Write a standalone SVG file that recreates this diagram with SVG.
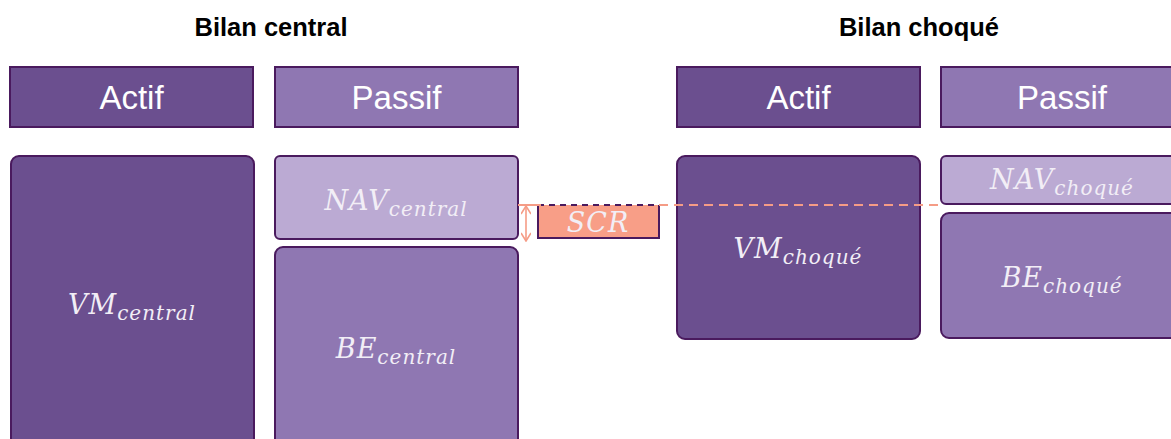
<svg xmlns="http://www.w3.org/2000/svg" width="1171" height="439" viewBox="0 0 1171 439">
<defs>
<marker id="ah" viewBox="0 0 10 10" refX="9" refY="5" markerWidth="10" markerHeight="10" markerUnits="userSpaceOnUse" orient="auto-start-reverse">
<path d="M1,0 L9,5 L1,10" fill="none" stroke="#F59C86" stroke-width="1.6"/>
</marker>
<style>
.title{font-family:"Liberation Sans",Arial,sans-serif;font-weight:bold;font-size:25.5px;fill:#000;text-anchor:middle}
.hdr{font-family:"Liberation Sans",Arial,sans-serif;font-size:33px;fill:#fff;text-anchor:middle}
.math{font-family:"DejaVu Serif","Liberation Serif",serif;font-style:italic;font-size:27px;letter-spacing:1px;fill:#F2EEF6;text-anchor:middle}
.sub{font-size:20px}
.dark{fill:#6B4F8F;stroke:#4A1A5E;stroke-width:2}
.mid{fill:#8F77B2;stroke:#4A1A5E;stroke-width:2}
.light{fill:#BBAAD3;stroke:#4A1A5E;stroke-width:2}
</style>
</defs>
<rect width="1171" height="439" fill="#fff"/>
<text class="title" x="271" y="36">Bilan central</text>
<text class="title" x="919" y="36">Bilan choqué</text>

<g id="hdr-actif-central"><rect class="dark" x="10" y="67" width="243" height="60"/><text class="hdr" x="131.5" y="109">Actif</text></g>
<g id="hdr-passif-central"><rect class="mid" x="275" y="67" width="243" height="60"/><text class="hdr" x="396.5" y="109">Passif</text></g>
<g id="hdr-actif-choque"><rect class="dark" x="677" y="67" width="243" height="60"/><text class="hdr" x="798.5" y="109">Actif</text></g>
<g id="hdr-passif-choque"><rect class="mid" x="941" y="67" width="243" height="60"/><text class="hdr" x="1062" y="109">Passif</text></g>

<g id="vm-central"><rect class="dark" x="11" y="156" width="243" height="300" rx="8"/><text class="math" x="132" y="314">VM<tspan class="sub" dy="6">central</tspan></text></g>
<g id="nav-central"><rect class="light" x="275" y="156" width="243" height="83" rx="5"/><text class="math" x="396" y="210">NAV<tspan class="sub" dy="6">central</tspan></text></g>
<g id="be-central"><rect class="mid" x="275" y="247" width="243" height="210" rx="8"/><text class="math" x="396" y="358">BE<tspan class="sub" dy="6">central</tspan></text></g>

<g id="scr">
<rect x="538" y="205" width="121" height="33" fill="#F89E87"/>
<path d="M538,205 V238 H659 V205" fill="none" stroke="#4A1A5E" stroke-width="2"/>
<line x1="538" y1="205" x2="659" y2="205" stroke="#4A1A5E" stroke-width="2" stroke-dasharray="6,5"/>
<text class="math" x="598" y="232">SCR</text>
</g>

<g id="vm-choque"><rect class="dark" x="677" y="156" width="243" height="183" rx="8"/><text class="math" x="798" y="258">VM<tspan class="sub" dy="6">choqué</tspan></text></g>

<g id="connectors">
<line x1="518" y1="205" x2="541" y2="205" stroke="#F59C86" stroke-width="2"/>
<line x1="659" y1="205" x2="941" y2="205" stroke="#F59C86" stroke-width="2" stroke-dasharray="9,6"/>
<line x1="526" y1="206" x2="526" y2="241" stroke="#F59C86" stroke-width="1.6" marker-start="url(#ah)" marker-end="url(#ah)"/>
</g>

<g id="nav-choque"><rect class="light" x="941" y="156" width="243" height="48" rx="5"/><text class="math" x="1062" y="189">NAV<tspan class="sub" dy="6">choqué</tspan></text></g>
<g id="be-choque"><rect class="mid" x="941" y="213" width="243" height="125" rx="8"/><text class="math" x="1062" y="287">BE<tspan class="sub" dy="6">choqué</tspan></text></g>
</svg>
